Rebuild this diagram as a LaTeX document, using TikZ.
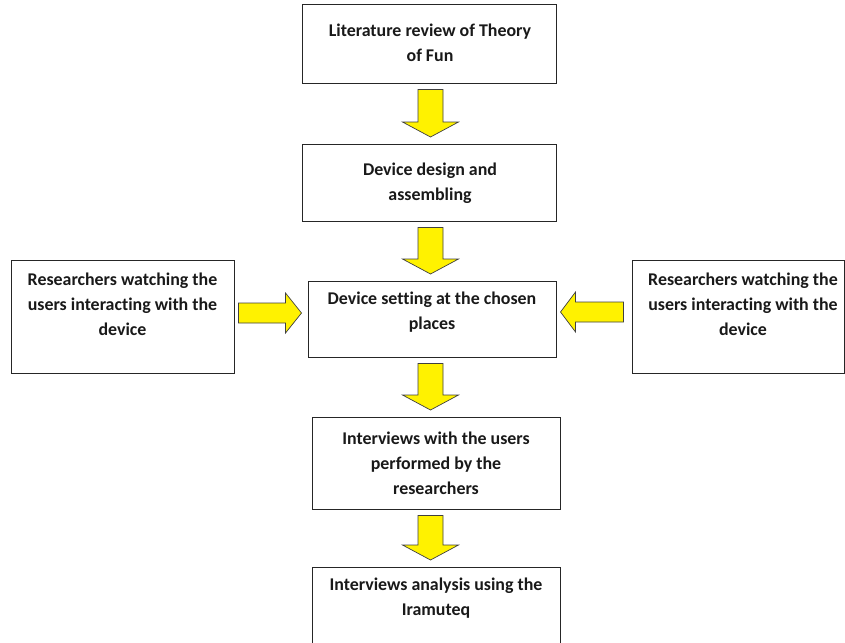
\documentclass[tikz,border=0pt]{standalone}
\usepackage{fontspec}
\setmainfont{Carlito}[Ligatures={NoCommon}]
\usetikzlibrary{calc}
\tikzset{
  box/.style={draw=black!85, line width=1pt, fill=white, inner sep=0pt},
  txt/.style={font=\fontsize{17.9}{25}\selectfont\bfseries, align=center, inner sep=0pt, text=black!90},
  blockarrow/.style={fill=yellow, draw=black!75, line width=0.7pt, line join=miter},
}
% vertical block arrow: #1 from node, #2 to node, #3 x (pixel)
\newcommand\downblock[3]{%
  \draw[blockarrow] let \p1=(#1.south), \p2=(#2.north), \p3=(#3,0) in
    (\x3-12.5pt,\y1-6pt) -- (\x3+12.5pt,\y1-6pt) -- (\x3+12.5pt,\y2+21.5pt) --
    (\x3+28pt,\y2+21.5pt) -- (\x3,\y2+6.5pt) -- (\x3-28pt,\y2+21.5pt) --
    (\x3-12.5pt,\y2+21.5pt) -- cycle;}
% right-pointing block arrow: #1 from node, #2 to node, #3 y (pixel)
\newcommand\rightblock[3]{%
  \draw[blockarrow] let \p1=(#1.east), \p2=(#2.west), \p3=(0,#3) in
    (\x1+4pt,\y3+10pt) -- (\x2-22pt,\y3+10pt) -- (\x2-22pt,\y3+20pt) --
    (\x2-6pt,\y3) -- (\x2-22pt,\y3-20pt) -- (\x2-22pt,\y3-10pt) --
    (\x1+4pt,\y3-10pt) -- cycle;}
% left-pointing block arrow: #1 from node (right side), #2 to node, #3 y (pixel)
\newcommand\leftblock[3]{%
  \draw[blockarrow] let \p1=(#1.west), \p2=(#2.east), \p3=(0,#3) in
    (\x1-8pt,\y3+10pt) -- (\x2+19pt,\y3+10pt) -- (\x2+19pt,\y3+20pt) --
    (\x2+4pt,\y3) -- (\x2+19pt,\y3-20pt) -- (\x2+19pt,\y3-10pt) --
    (\x1-8pt,\y3-10pt) -- cycle;}
\begin{document}
\begin{tikzpicture}[x=1pt,y=-1pt]
\useasboundingbox (0,0) rectangle (845,642);
\fill[white] (0,0) rectangle (845,642);

% boxes
\node[box, minimum width=254pt, minimum height=78pt] (b1) at (429,44) {};
\node[box, minimum width=254pt, minimum height=77pt] (b2) at (429,182.5) {};
\node[box, minimum width=248pt, minimum height=76pt] (b3) at (432,319) {};
\node[box, minimum width=223pt, minimum height=113pt] (bl) at (122.5,316.5) {};
\node[box, minimum width=212pt, minimum height=113pt] (br) at (738,316.5) {};
\node[box, minimum width=248pt, minimum height=92pt] (b4) at (436,463) {};
\node[box, minimum width=248pt, minimum height=90pt] (b5) at (436,612) {};

% texts
\node[txt] (t1) at (430,43) {Literature review of Theory\\of Fun};
\node[txt] (t2) at (430,183) {Device design and\\assembling};
\node[txt] (t3) at (432,312) {Device setting at the chosen\\places};
\node[txt] (tl) at (122.5,304) {Researchers watching the\\users interacting with the\\device};
\node[txt] (tr) at (743,304) {Researchers watching the\\users interacting with the\\device};
\node[txt] (t4) at (436,463) {Interviews with the users\\performed by the\\researchers};
\node[txt] (t5) at (436,598) {Interviews analysis using the\\Iramuteq};

% arrows
\downblock{b1}{b2}{430.5}
\downblock{b2}{b3}{430.5}
\downblock{b3}{b4}{430.5}
\downblock{b4}{b5}{430.5}
\rightblock{bl}{b3}{313}
\leftblock{br}{b3}{312}
\end{tikzpicture}
\end{document}
